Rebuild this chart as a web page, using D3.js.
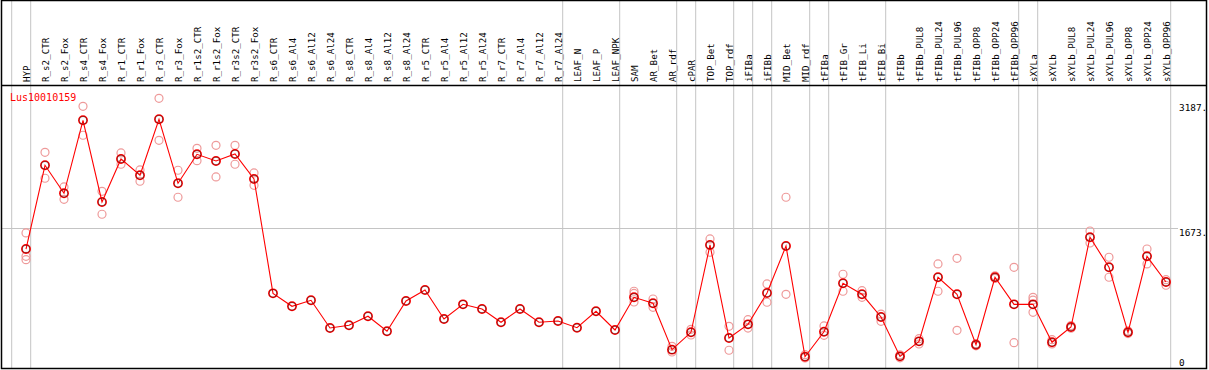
<!DOCTYPE html>
<html>
<head>
<meta charset="utf-8">
<script src="https://cdn.jsdelivr.net/npm/d3@7"></script>
<style>
  body { margin: 0; background: #fff; }
  svg { display: block; }
  text { font-family: "DejaVu Sans Mono", monospace; }
</style>
</head>
<body>
<script>

// gene name shown in the corner
var geneName = 'Lus10010159';

var categories = [
  'HYP', 'R_s2_CTR', 'R_s2_Fox', 'R_s4_CTR', 'R_s4_Fox', 'R_r1_CTR', 'R_r1_Fox',
  'R_r3_CTR', 'R_r3_Fox', 'R_r1s2_CTR', 'R_r1s2_Fox', 'R_r3s2_CTR', 'R_r3s2_Fox',
  'R_s6_CTR', 'R_s6_Al4', 'R_s6_Al12', 'R_s6_Al24', 'R_s8_CTR', 'R_s8_Al4',
  'R_s8_Al12', 'R_s8_Al24', 'R_r5_CTR', 'R_r5_Al4', 'R_r5_Al12', 'R_r5_Al24',
  'R_r7_CTR', 'R_r7_Al4', 'R_r7_Al12', 'R_r7_Al24', 'LEAF_N', 'LEAF_P', 'LEAF_NPK',
  'SAM', 'AR_Bet', 'AR_rdf', 'cPAR', 'TOP_Bet', 'TOP_rdf', 'iFIBa', 'iFIBb',
  'MID_Bet', 'MID_rdf', 'tFIBa', 'tFIB_Gr', 'tFIB_Li', 'tFIB_Bi', 'tFIBb',
  'tFIBb_PUL8', 'tFIBb_PUL24', 'tFIBb_PUL96', 'tFIBb_OPP8', 'tFIBb_OPP24', 'tFIBb_OPP96',
  'sXYLa', 'sXYLb', 'sXYLb_PUL8', 'sXYLb_PUL24', 'sXYLb_PUL96', 'sXYLb_OPP8',
  'sXYLb_OPP24', 'sXYLb_OPP96'
];

// mean expression per sample
var means = [
  1432, 2407, 2081, 2931, 1980, 2481, 2291, 2943, 2197, 2535, 2457, 2539, 2248,
  916, 765, 835, 512, 544, 649, 474, 827, 955, 617, 788, 734,
  579, 734, 579, 594, 516, 707, 489,
  870, 800, 260, 462, 1479, 396, 555, 920, 1467, 178,
  469, 1033, 905, 641, 182, 357, 1103, 905, 318, 1103, 788,
  788, 346, 524, 1569, 1219, 462, 1347, 1048
];

// individual replicates (empty where only the mean is shown)
var replicates = [
  [1619, 1347, 1308], [2558, 2256], [2155, 2011], [3094, 2757], [2104, 1837],
  [2551, 2419], [2353, 2221], [3187, 2698], [2349, 2035], [2605, 2461],
  [2640, 2271], [2640, 2419], [2318, 2174],
  [], [], [], [], [], [], [], [], [], [], [], [], [], [], [], [], [], [], [],
  [940, 915, 815], [850, 753], [299, 233], [497, 431], [1549, 1394], [532, 253],
  [609, 512], [1025, 812], [2035, 905], [202, 163],
  [536, 427], [1138, 940], [947, 870], [675, 590], [200, 165], [388, 326],
  [1258, 940], [1324, 485], [330, 305], [1120, 1090], [1219, 342],
  [870, 838, 695], [376, 326], [540, 510], [1642, 1502], [1336, 1103], [478, 448],
  [1432, 1258], [1075, 1010]
];

// index of the last sample in each group (separator drawn after it)
var groupEnds = [-1, 0, 28, 31, 34, 35, 37, 38, 39, 41, 42, 45, 52, 53, 60];

var yMax = 3187;
var yMid = 1673;
var yTicks = [3187, 1673, 0];

var width = 1209, height = 370;

var svg = d3.select('body').append('svg')
    .attr('width', width)
    .attr('height', height);

var x = d3.scalePoint()
    .domain(categories)
    .range([26, 1166]);

var y = d3.scaleLinear()
    .domain([0, yMax])
    .range([372, 98.3]);

var step = x.step();
var colX = (k) => x.range()[0] + k * step;

// group separators (full height)
svg.append('g')
  .selectAll('line')
  .data(groupEnds)
  .enter().append('line')
    .attr('x1', (d) => colX(d) + 4.7)
    .attr('x2', (d) => colX(d) + 4.7)
    .attr('y1', 0)
    .attr('y2', 368)
    .style('stroke', '#c4c4c4')
    .style('stroke-width', 1);

// horizontal reference line
svg.append('line')
  .attr('x1', 1)
  .attr('x2', 1178)
  .attr('y1', Math.round(y(yMid)) + 0.5)
  .attr('y2', Math.round(y(yMid)) + 0.5)
  .style('stroke', '#c4c4c4');

// frame + header separator
svg.append('rect')
  .attr('x', 1.5).attr('y', 0.5)
  .attr('width', 1205).attr('height', 368)
  .style('fill', 'none')
  .style('stroke', '#000')
  .style('stroke-width', 1.5);

svg.append('line')
  .attr('x1', 1).attr('x2', 1207)
  .attr('y1', 85.5).attr('y2', 85.5)
  .style('stroke', '#000')
  .style('stroke-width', 1.3);

// sample names, rotated
svg.append('g')
  .selectAll('text')
  .data(categories)
  .enter().append('text')
    .attr('transform', (d) => 'translate(' + (x(d) + 0.5) + ',82) rotate(-90)')
    .attr('dominant-baseline', 'central')
    .style('font-size', '9.2px')
    .style('fill', '#000')
    .text((d) => d);

// y labels on the right
var labelShift = {3187: 9, 1673: 4, 0: -10};
svg.append('g')
  .selectAll('text')
  .data(yTicks)
  .enter().append('text')
    .attr('x', 1179)
    .attr('y', (d) => y(d) + labelShift[d])
    .attr('dominant-baseline', 'central')
    .style('font-size', '9.4px')
    .text((d) => d === 0 ? '0' : d + '.');

svg.append('text')
  .attr('x', 10)
  .attr('y', 97.5)
  .attr('dominant-baseline', 'central')
  .style('font-size', '10px')
  .style('fill', '#ff0000')
  .text(geneName);

// replicate circles
var repPts = [];
replicates.forEach((reps, i) => {
  reps.forEach((v) => repPts.push({cat: categories[i], v: v}));
});

svg.append('g')
  .selectAll('circle')
  .data(repPts)
  .enter().append('circle')
    .attr('cx', (d) => x(d.cat))
    .attr('cy', (d) => y(d.v))
    .attr('r', 4)
    .style('fill', 'none')
    .style('stroke', '#ee9a9a')
    .style('stroke-width', 1.2);

// mean line
var line = d3.line()
    .x((d, i) => x(categories[i]))
    .y((d) => y(d));

svg.append('path')
  .datum(means)
  .attr('d', line)
  .style('fill', 'none')
  .style('stroke', '#ff0000')
  .style('stroke-width', 1.1);

// mean markers
var markers = svg.append('g')
  .selectAll('g')
  .data(means)
  .enter().append('g')
    .attr('transform', (d, i) => 'translate(' + x(categories[i]) + ',' + y(d) + ')');

markers.append('circle')
  .attr('r', 4.2)
  .style('fill', 'none')
  .style('stroke', '#ff0000')
  .style('stroke-width', 1.5);

markers.append('circle')
  .attr('r', 3.8)
  .style('fill', 'none')
  .style('stroke', '#000')
  .style('stroke-width', 0.4);

</script>
</body>
</html>
